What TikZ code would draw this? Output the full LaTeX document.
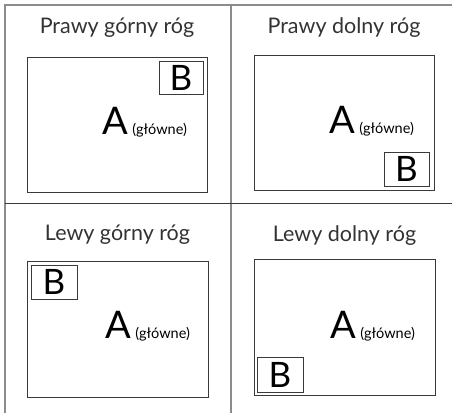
\documentclass[tikz,border=0pt]{standalone}
\usepackage{fontspec}
\setmainfont{Lato}
\usepackage{tikz}
\definecolor{gridgray}{HTML}{8C8C8C}
\definecolor{framegray}{HTML}{3A3A3A}

\begin{document}
\begin{tikzpicture}[x=1pt,y=-1pt,
        title/.style={anchor=base,inner sep=0pt,text=black!80,font=\fontsize{21.5}{22}\selectfont},
        frame/.style={draw=framegray,line width=0.9pt,inner sep=0pt},
        boxb/.style={draw=framegray,line width=0.8pt,inner sep=0pt,font=\fontsize{35}{36}\selectfont},
        letter/.style={anchor=base west,inner sep=0pt,font=\fontsize{38}{38}\selectfont},
        main/.style={anchor=base west,inner sep=0pt,font=\fontsize{14.5}{15}\selectfont}]
        \useasboundingbox (0,0) rectangle (452,413);

        % grid lines
        \draw[gridgray,line width=1.3pt] (5,413) -- (5,5) -- (452,5);
        \draw[gridgray,line width=1.3pt] (231,5) -- (231,413);
        \draw[framegray,line width=0.9pt] (5,203) -- (452,203);

        % top left
        \node[title] (T1) at (117,33) {Prawy górny róg};
        \node[frame,minimum width=180pt,minimum height=135pt] (F1) at (117,124.5) {};
        \node[boxb,minimum width=44pt,minimum height=33pt] (B1) at (181,77.5) {B};
        \node[letter] (A1) at (102,134) {A};
        \node[main] (M1) at ([xshift=4pt]A1.base east) {(główne)};

        % top right
        \node[title] (T2) at (344,33) {Prawy dolny róg};
        \node[frame,minimum width=180pt,minimum height=135pt] (F2) at (344,122.5) {};
        \node[boxb,minimum width=45pt,minimum height=34pt] (B2) at (406.5,169) {B};
        \node[letter] (A2) at (329,133) {A};
        \node[main] (M2) at ([xshift=4pt]A2.base east) {(główne)};

        % bottom left
        \node[title] (T3) at (117.5,240) {Lewy górny róg};
        \node[frame,minimum width=181pt,minimum height=136pt] (F3) at (117.5,329) {};
        \node[boxb,minimum width=46pt,minimum height=34pt] (B3) at (54,282) {B};
        \node[letter] (A3) at (105,338) {A};
        \node[main] (M3) at ([xshift=4pt]A3.base east) {(główne)};

        % bottom right
        \node[title] (T4) at (344.5,241) {Lewy dolny róg};
        \node[frame,minimum width=181pt,minimum height=136pt] (F4) at (344.5,327) {};
        \node[boxb,minimum width=46pt,minimum height=35pt] (B4) at (280,374.5) {B};
        \node[letter] (A4) at (330,338) {A};
        \node[main] (M4) at ([xshift=4pt]A4.base east) {(główne)};
    \end{tikzpicture}
\end{document}
